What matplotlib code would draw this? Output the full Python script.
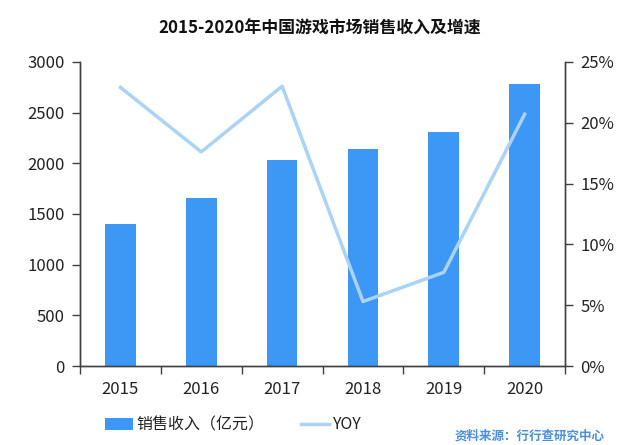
import matplotlib
matplotlib.use("Agg")
import matplotlib.pyplot as plt
import numpy as np
from matplotlib.ticker import FuncFormatter, FixedLocator

plt.rcParams['font.family'] = ['Noto Sans CJK SC', 'DejaVu Sans']

years = ["2015", "2016", "2017", "2018", "2019", "2020"]
revenue = [1400, 1655, 2036, 2144, 2308, 2786]
yoy = [22.9, 17.6, 23.0, 5.3, 7.7, 20.7]

bar_color = "#3D97F5"
line_color = "#AAD3F5"
axis_color = "#404040"

fig = plt.figure(figsize=(6.4, 4.45), dpi=100)
ax = fig.add_axes([0.125, 0.1775, 0.758, 0.6835])
x = np.arange(len(years))
bars = ax.bar(x, revenue, width=0.38, color=bar_color, label="销售收入（亿元）", zorder=2)
ax.set_xlim(-0.5, len(years) - 0.5)
ax.set_ylim(0, 3000)
ax.set_yticks(np.arange(0, 3001, 500))
ax.set_xticks(x)
ax.set_xticklabels(years)
ax.xaxis.set_minor_locator(FixedLocator(np.arange(-0.5, len(years), 1)))
ax.tick_params(axis='x', which='major', length=0, pad=11, labelsize=12, colors='#222222')
ax.tick_params(axis='x', which='minor', length=6, width=1, color=axis_color, direction='out')
ax.tick_params(axis='y', length=6, width=1, color=axis_color, labelsize=12, labelcolor='#222222', pad=5)

ax2 = ax.twinx()
line, = ax2.plot(x, yoy, color=line_color, lw=2.5, label="YOY", zorder=3)
ax2.set_ylim(0, 25)
ax2.set_yticks(np.arange(0, 26, 5))
ax2.yaxis.set_major_formatter(FuncFormatter(lambda v, p: f"{int(v)}%"))
ax2.tick_params(axis='y', length=6, width=1, color=axis_color, labelsize=12, labelcolor='#222222', pad=5)

for a in (ax, ax2):
    a.spines['top'].set_visible(False)
    for s in ('left', 'right', 'bottom'):
        a.spines[s].set_color(axis_color)
        a.spines[s].set_linewidth(1)

fig.text(0.5, 0.936, "2015-2020年中国游戏市场销售收入及增速", ha='center', va='center',
         fontsize=12.2, fontweight='bold', color='#111111')

fig.legend([bars, line], ["销售收入（亿元）", "YOY"], loc='center left',
           bbox_to_anchor=(0.152, 0.045), ncol=2, frameon=False, fontsize=11.5,
           handlelength=1.75, handleheight=0.8, columnspacing=2.3, handletextpad=0.2,
           labelcolor='#222222', borderpad=0)

fig.text(0.945, 0.006, "资料来源：行行查研究中心", ha='right', va='bottom',
         fontsize=9, fontweight='bold', color='#4A8FDB')

fig.savefig("out.png", dpi=100)
